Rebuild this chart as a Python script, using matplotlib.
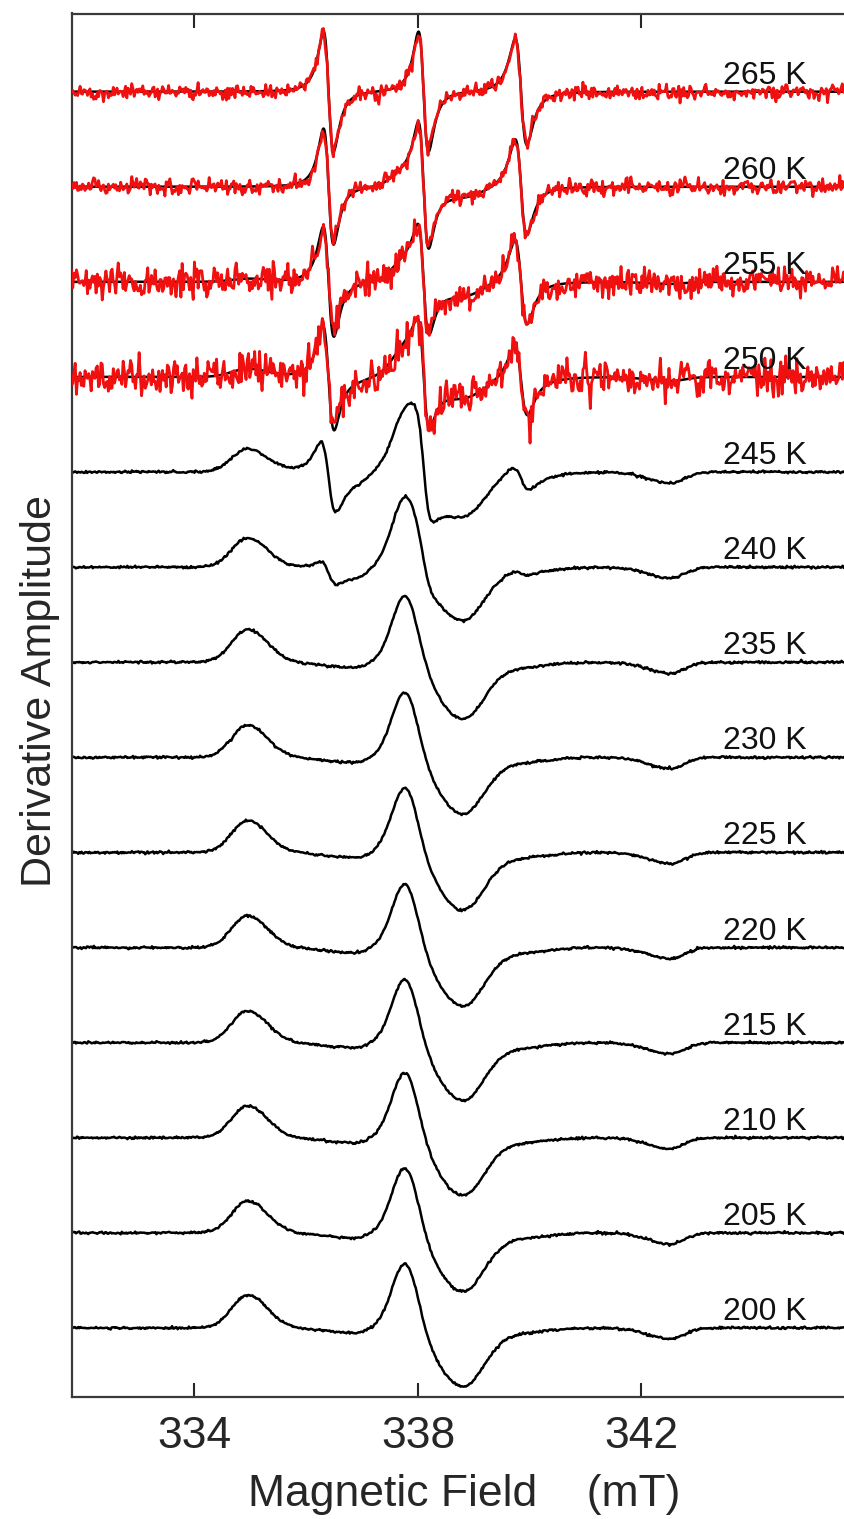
import numpy as np
import matplotlib
matplotlib.use("Agg")
import matplotlib.pyplot as plt

plt.rcParams['font.family'] = ['Liberation Sans', 'DejaVu Sans']

# ---- spectra, listed from the top trace (265 K) down to 200 K ----
temps = [265, 260, 255, 250, 245, 240, 235, 230, 225, 220, 215, 210, 205, 200]
is_fit_overlay = [True, True, True, True] + [False] * 10   # experiment (red) over simulation (black)

# broad powder-pattern components (amplitudes in display units)
low_bump = [0, 0, 3, 8, 23, 29, 33, 32, 32, 32, 32, 32, 32, 33]
shelf    = [0, 0, 0, -2, -8, -9, -5, -5, -5, -5, -5, -5, -5, -5]
main_pos = [0, 12, 18, 25, 52, 70, 70, 69, 68, 67, 67, 69, 69, 68]
main_neg = [0, -10, -14, -20, -42, -52, -56, -56, -57, -58, -57, -57, -58, -58]
tail     = [0, 0, 0, -3, -5, -5, -5, -5, -5, -5, -5, -5, -5, -5]
high_dip = [0, 0, -2, -4, -11, -11, -11, -11, -11, -11, -11, -11, -11, -11]

# sharp three-line component (peak heights and peak-to-peak widths, mT)
line1_amp = [60, 58, 55, 52, 34, 10, 0, 0, 0, 0, 0, 0, 0, 0]
line2_amp = [60, 60, 50, 47, 35, 8, 0, 0, 0, 0, 0, 0, 0, 0]
line3_amp = [53, 48, 42, 35, 12, 3, 0, 0, 0, 0, 0, 0, 0, 0]
line_dhpp = [0.18, 0.18, 0.19, 0.20, 0.26, 0.27, 0.27, 0.27, 0.27, 0.27, 0.27, 0.27, 0.27, 0.27]

# noise level of each recorded trace (display units)
noise_level = [4.0, 4.0, 7.0, 9.0, 0.6, 0.6, 0.6, 0.6, 0.6, 0.6, 0.6, 0.6, 0.6, 0.6]

# component positions / widths (mT)
broad_centers = {"low": 334.95, "shelf": 336.9, "pos": 337.78, "neg": 338.80, "tail": 339.8, "dip": 342.52}
broad_widths = {"low": (0.28, 0.35), "shelf": (0.55, 0.18), "pos": (0.24, 0.22),
                "neg": (0.45, 0.38), "tail": (0.5, 0.5), "dip": (0.40, 0.25)}
line_centers = [336.40, 338.10, 339.845]
line_width_scale = [1.0, 1.0, 1.15]

spacing = 95.0
xmin, xmax = 331.8, 346.0


def split_gauss(x, c, wl, wr):
    w = np.where(x < c, wl, wr)
    return np.exp(-0.5 * ((x - c) / w) ** 2)


def deriv_lorentz(x, c, dhpp):
    g = dhpp * np.sqrt(3) / 2
    t = (x - c) / g
    return -2 * t / (1 + t * t) ** 2 / (3 * np.sqrt(3) / 8)


def spectrum(x, i):
    amps = {"low": low_bump[i], "shelf": shelf[i], "pos": main_pos[i],
            "neg": main_neg[i], "tail": tail[i], "dip": high_dip[i]}
    y = np.zeros_like(x)
    for k, a in amps.items():
        if a:
            wl, wr = broad_widths[k]
            y += a * split_gauss(x, broad_centers[k], wl, wr)
    for c, a, s in zip(line_centers, [line1_amp[i], line2_amp[i], line3_amp[i]], line_width_scale):
        if a:
            y += a * deriv_lorentz(x, c, line_dhpp[i] * s)
    return y


W, H = 844, 1519
fig = plt.figure(figsize=(W / 100, H / 100), dpi=100)
ax_left, ax_right, ax_top, ax_bottom = 71.5, 865.0, 13.5, 1397.0
ax = fig.add_axes([ax_left / W, 1 - ax_bottom / H, (ax_right - ax_left) / W, (ax_bottom - ax_top) / H])

rng = np.random.default_rng(7)
x_fine = np.arange(xmin, xmax, 0.005)
x_rec = np.arange(xmin, xmax, 0.022)
n = len(temps)
for i, T in enumerate(temps):
    off = (n - 1 - i) * spacing
    if is_fit_overlay[i]:
        ax.plot(x_fine, off + spectrum(x_fine, i), color='black', lw=1.8, zorder=2)
        rec = 0.95 * spectrum(x_rec, i) + rng.normal(0, noise_level[i], x_rec.size)
        ax.plot(x_rec, off + rec, color='#f01010', lw=2.0, zorder=3)
    else:
        xs = np.arange(xmin, xmax, 0.02)
        rec = spectrum(xs, i) + rng.normal(0, noise_level[i], xs.size)
        ax.plot(xs, off + rec, color='black', lw=1.8, zorder=2)
    ax.text(343.46, off + 8, f"{T} K", fontsize=23, ha='left', va='baseline', color='#111111', zorder=5)

ax.set_xlim(xmin, 346.0)
ax.set_ylim(-69, 13.822 * spacing)
ax.set_xticks([334, 338, 342])
ax.set_yticks([])
ax.tick_params(axis='x', direction='in', length=10, width=1.5, top=True, labelsize=32,
               pad=14, colors='#262626')
for sp in ax.spines.values():
    sp.set_linewidth(1.6)
    sp.set_color('#3a3a3a')
ax.spines['right'].set_visible(False)

ax.set_xlabel("Magnetic Field    (mT)", fontsize=32, color='#262626')
ax.xaxis.set_label_coords(0.495, -0.056)
ax.set_ylabel("Derivative Amplitude", fontsize=31, color='#262626')
ax.yaxis.set_label_coords(-0.0145, 0.51)

fig.savefig("out.png", dpi=100)
